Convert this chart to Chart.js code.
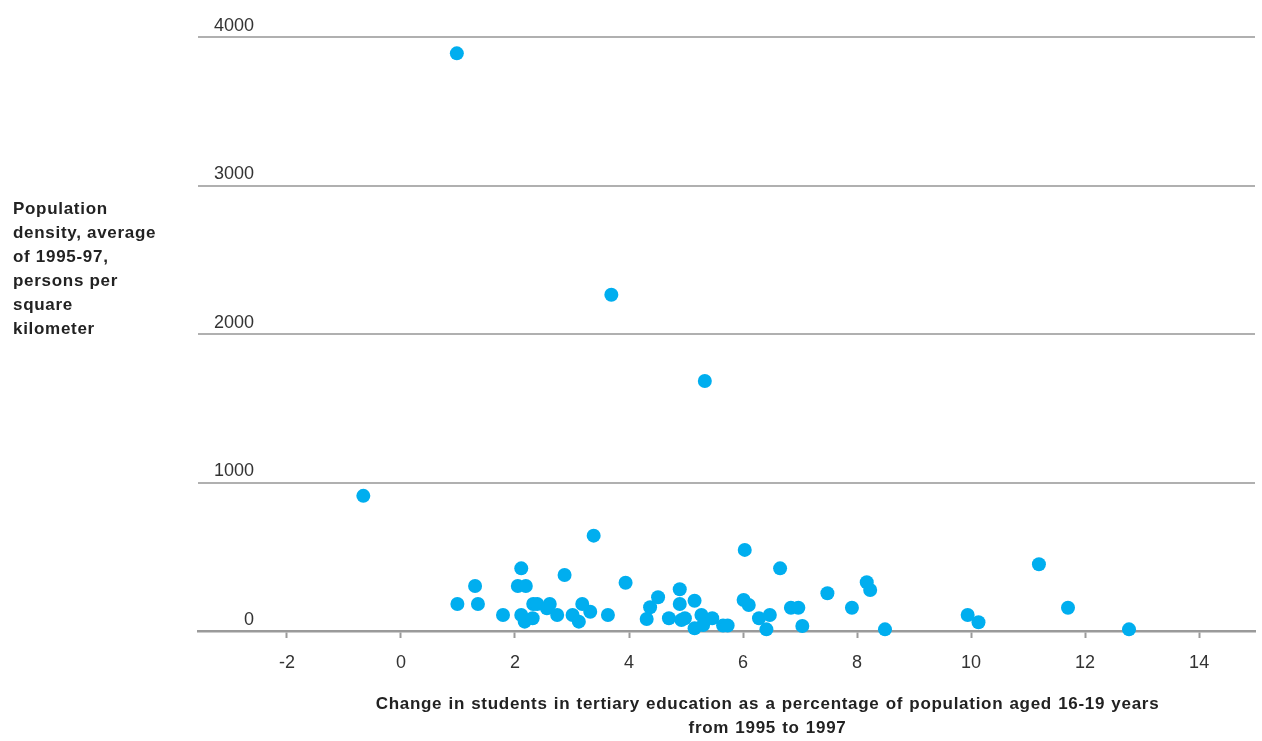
<!DOCTYPE html>
<html>
<head>
<meta charset="utf-8">
<script src="https://cdn.jsdelivr.net/npm/chart.js@4/dist/chart.umd.min.js"></script>
<style>
html,body{margin:0;padding:0;background:#fff;overflow:hidden;}
#wrap{position:relative;width:1262px;height:741px;}
#c{position:absolute;left:0;top:0;}
.ytitle{position:absolute;left:13px;top:197px;font-family:"Liberation Sans",Arial,Helvetica,sans-serif;font-weight:bold;font-size:17px;line-height:24px;color:#222;white-space:nowrap;letter-spacing:0.7px;}
.xtitle{position:absolute;left:367px;width:801px;top:692px;text-align:center;font-family:"Liberation Sans",Arial,Helvetica,sans-serif;font-weight:bold;font-size:17px;line-height:24px;color:#222;white-space:nowrap;letter-spacing:0.7px;word-spacing:0.8px;}
</style>
</head>
<body>
<div id="wrap">
<canvas id="c" width="1262" height="741"></canvas>
<div class="ytitle">Population<br>density, average<br>of 1995-97,<br>persons per<br>square<br>kilometer</div>
<div class="xtitle">Change in students in tertiary education as a percentage of population aged 16-19 years<br>from 1995 to 1997</div>
</div>
<script>
const xTicks = [-2, 0, 2, 4, 6, 8, 10, 12, 14];
const yTicks = [0, 1000, 2000, 3000, 4000];

const changeStudents = [
  -0.66, 0.98, 3.69, 5.33, 0.99, 1.30, 1.35, 1.79, 2.11, 2.05,
  2.19, 2.11, 2.17, 2.31, 2.32, 2.39, 2.61, 2.56, 2.74, 2.87,
  3.01, 3.12, 3.18, 3.32, 3.38, 3.63, 3.94, 4.31, 4.37, 4.51,
  4.70, 4.89, 4.89, 4.92, 4.98, 5.15, 5.15, 5.27, 5.30, 5.46,
  5.65, 5.73, 6.03, 6.01, 6.10, 6.28, 6.41, 6.47, 6.65, 6.84,
  6.97, 7.04, 7.48, 7.91, 8.17, 8.23, 8.49, 9.94, 10.13, 11.19,
  11.70, 12.77
];
const popDensity = [
  910, 3890, 2264, 1684, 182, 303, 182, 108, 422, 303,
  303, 108, 63, 86, 182, 182, 182, 153, 108, 377,
  108, 63, 182, 130, 642, 108, 325, 81, 160, 227,
  86, 281, 182, 74, 86, 204, 18, 108, 40, 86,
  37, 37, 546, 209, 175, 86, 11, 108, 422, 157,
  157, 34, 254, 157, 328, 276, 11, 108, 59, 449,
  157, 11
];

const FONT = '"Liberation Sans", Arial, Helvetica, sans-serif';
Chart.defaults.font.family = FONT;

new Chart(document.getElementById('c'), {
  type: 'scatter',
  data: {
    datasets: [{
      data: changeStudents.map((x, i) => ({ x: x, y: popDensity[i] })),
      backgroundColor: '#00aeef',
      borderWidth: 0,
      pointRadius: 7,
      pointHoverRadius: 7,
      clip: false
    }]
  },
  options: {
    responsive: false,
    animation: false,
    events: [],
    layout: { padding: { top: 37, right: 6, bottom: 0, left: 0 } },
    plugins: { legend: { display: false }, tooltip: { enabled: false } },
    scales: {
      x: {
        type: 'linear',
        min: -3.56,
        max: 14.98,
        afterBuildTicks: s => { s.ticks = xTicks.map(v => ({ value: v })); },
        afterFit: s => { s.height = 110; },
        grid: { display: true, drawOnChartArea: false, drawTicks: true, tickLength: 7, tickColor: '#9a9a9a', tickWidth: 2 },
        border: { display: true, color: '#9a9a9a', width: 2.5 },
        ticks: { color: '#333', font: { size: 18 }, padding: 14, maxRotation: 0, autoSkip: false,
                 callback: v => String(v) }
      },
      y: {
        type: 'linear',
        min: 0,
        max: 4000,
        afterBuildTicks: s => { s.ticks = yTicks.map(v => ({ value: v })); },
        afterFit: s => { s.width = 198; },
        grid: { color: '#b0b0b0', lineWidth: 2, drawTicks: false },
        border: { display: false },
        ticks: { mirror: true, crossAlign: 'far', padding: 16, labelOffset: -11, color: '#333', font: { size: 18 },
                 callback: v => String(v) }
      }
    }
  }
});
</script>
</body>
</html>
